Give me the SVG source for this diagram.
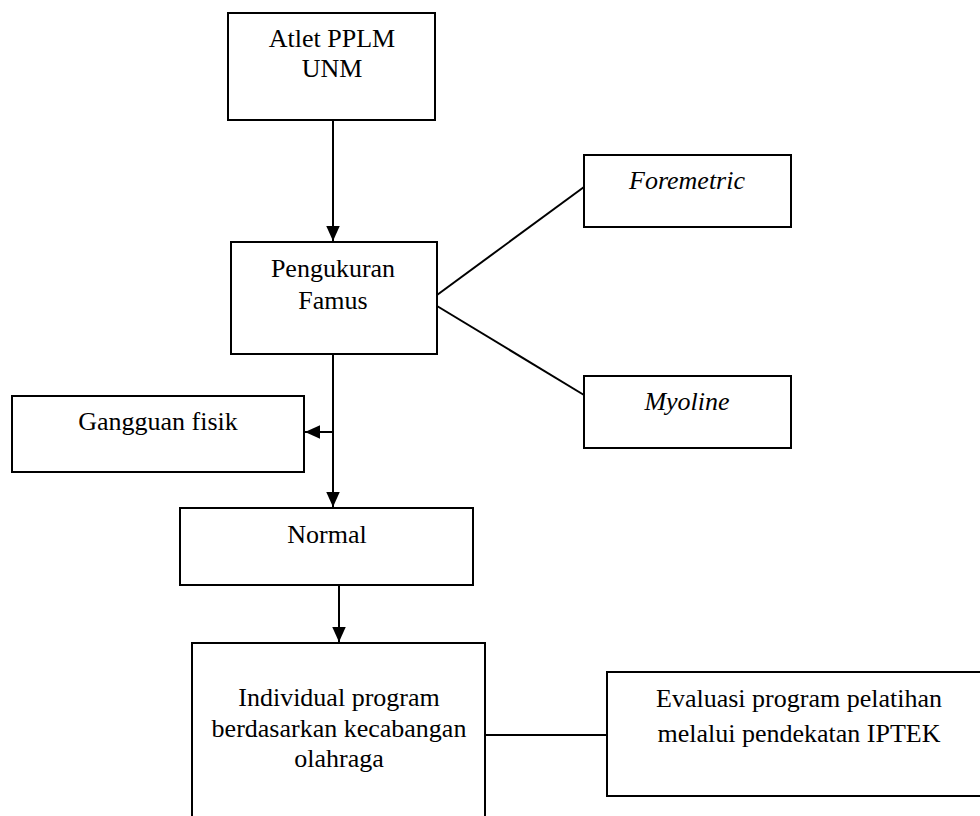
<svg xmlns="http://www.w3.org/2000/svg" width="980" height="816" viewBox="0 0 980 816">
<defs>
<marker id="ah" viewBox="0 0 10 10" refX="10" refY="5" markerWidth="7.5" markerHeight="7.5" orient="auto" markerUnits="strokeWidth">
<path d="M0,0.5 L10,5 L0,9.5 z" fill="#000"/>
</marker>
</defs>
<style>
.box{fill:#fff;stroke:#000;stroke-width:2}
.t{font-family:"Liberation Serif","Times New Roman",serif;font-size:26px;fill:#000;text-anchor:middle}
.i{font-style:italic}
.c{fill:none;stroke:#000;stroke-width:2}
</style>
<rect width="980" height="816" fill="#fff"/>
<g id="connectors">
<line class="c" x1="333" y1="120" x2="333" y2="241" marker-end="url(#ah)"/>
<line class="c" x1="437" y1="295" x2="584" y2="187"/>
<line class="c" x1="437" y1="306" x2="584" y2="395"/>
<line class="c" x1="333" y1="354" x2="333" y2="507" marker-end="url(#ah)"/>
<line class="c" x1="333" y1="432" x2="305" y2="432" marker-end="url(#ah)"/>
<line class="c" x1="339" y1="585" x2="339" y2="642" marker-end="url(#ah)"/>
<line class="c" x1="485" y1="735" x2="607" y2="735"/>
</g>
<g id="n_atlet">
<rect class="box" x="228" y="13" width="207" height="107"/>
<text class="t" x="332" y="47">Atlet PPLM</text>
<text class="t" x="332" y="77">UNM</text>
</g>
<g id="n_pengukuran">
<rect class="box" x="231" y="242" width="206" height="112"/>
<text class="t" x="333" y="277">Pengukuran</text>
<text class="t" x="333" y="309">Famus</text>
</g>
<g id="n_foremetric">
<rect class="box" x="584" y="155" width="207" height="72"/>
<text class="t i" x="687" y="189">Foremetric</text>
</g>
<g id="n_myoline">
<rect class="box" x="584" y="376" width="207" height="72"/>
<text class="t i" x="687" y="410">Myoline</text>
</g>
<g id="n_gangguan">
<rect class="box" x="12" y="396" width="292" height="76"/>
<text class="t" x="158" y="430">Gangguan fisik</text>
</g>
<g id="n_normal">
<rect class="box" x="180" y="508" width="293" height="77"/>
<text class="t" x="327" y="543">Normal</text>
</g>
<g id="n_individual">
<rect class="box" x="192" y="643" width="293" height="190"/>
<text class="t" x="339" y="706">Individual program</text>
<text class="t" x="339" y="737">berdasarkan kecabangan</text>
<text class="t" x="339" y="767">olahraga</text>
</g>
<g id="n_evaluasi">
<rect class="box" x="607" y="672" width="384" height="124"/>
<text class="t" x="799" y="707">Evaluasi program pelatihan</text>
<text class="t" x="799" y="742">melalui pendekatan IPTEK</text>
</g>
</svg>
